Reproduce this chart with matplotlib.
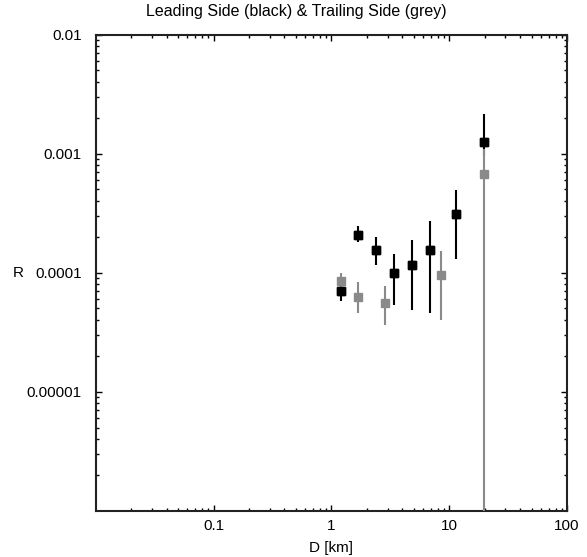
import matplotlib
matplotlib.use('AGG')
import numpy as np
import matplotlib.pyplot as plt
from matplotlib.ticker import FixedLocator, FixedFormatter, LogLocator, NullFormatter

plt.rcParams['font.family'] = ['Liberation Sans', 'DejaVu Sans']
plt.rcParams['font.size'] = 11

# leading side (black)
D_lead = [1.2, 1.69, 2.41, 3.39, 4.79, 6.81, 11.5, 19.9]
R_lead = [7.0e-5, 2.09e-4, 1.56e-4, 9.9e-5, 1.17e-4, 1.56e-4, 3.11e-4, 1.24e-3]
lead_lo = [5.8e-5, 1.8e-4, 1.17e-4, 5.4e-5, 4.9e-5, 4.6e-5, 1.3e-4, 9.5e-4]
lead_hi = [7.7e-5, 2.48e-4, 2.0e-4, 1.44e-4, 1.87e-4, 2.7e-4, 4.98e-4, 2.13e-3]

# trailing side (grey)
D_trail = [1.2, 1.69, 2.83, 8.55, 19.9]
R_trail = [8.45e-5, 6.25e-5, 5.57e-5, 9.6e-5, 6.8e-4]
trail_lo = [7.0e-5, 4.6e-5, 3.6e-5, 4.0e-5, 1e-8]
trail_hi = [1.0e-4, 8.4e-5, 7.7e-5, 1.53e-4, 1.1e-3]

xticks = [0.1, 1, 10, 100]
xticklabels = ["0.1", "1", "10", "100"]
yticks = [1e-5, 1e-4, 1e-3, 1e-2]
yticklabels = ["0.00001", "0.0001", "0.001", "0.01"]

grey = "#8a8a8a"

fig = plt.figure(figsize=(5.87, 5.57), dpi=100)
ax = fig.add_axes([0.163, 0.083, 0.803, 0.855])
ax.set_xscale('log')
ax.set_yscale('log')

def err(y, lo, hi):
    y = np.array(y); lo = np.array(lo); hi = np.array(hi)
    return [y - lo, hi - y]

ax.errorbar(D_lead, R_lead, yerr=err(R_lead, lead_lo, lead_hi), fmt='s', color='black',
            ms=5.5, elinewidth=1.5, capsize=0, zorder=2)
ax.errorbar(D_trail, R_trail, yerr=err(R_trail, trail_lo, trail_hi), fmt='s', color=grey,
            ms=5.5, elinewidth=1.5, capsize=0, zorder=3)
# black markers on top
ax.plot(D_lead, R_lead, 's', color='black', ms=5.5, zorder=4)

ax.set_xlim(0.01, 100)
ax.set_ylim(1e-6, 1e-2)

ax.xaxis.set_major_locator(FixedLocator(xticks))
ax.xaxis.set_major_formatter(FixedFormatter(xticklabels))
ax.yaxis.set_major_locator(FixedLocator(yticks))
ax.yaxis.set_major_formatter(FixedFormatter(yticklabels))
ax.xaxis.set_minor_locator(LogLocator(base=10, subs=np.arange(2, 10)))
ax.yaxis.set_minor_locator(LogLocator(base=10, subs=np.arange(2, 10)))
ax.xaxis.set_minor_formatter(NullFormatter())
ax.yaxis.set_minor_formatter(NullFormatter())

ax.tick_params(which='both', direction='in', top=True, right=True, width=1)
ax.tick_params(which='major', length=4)
ax.tick_params(which='minor', length=2)
ax.tick_params(axis='y', pad=10)
ax.tick_params(axis='x', pad=6)
for s in ax.spines.values():
    s.set_linewidth(1.5)
    s.set_color('#222222')

# title is centred on the figure, not the axes
fig.text(0.505, 0.979, "Leading Side (black) & Trailing Side (grey)", fontsize=11.5,
         ha='center', va='center')
ax.set_xlabel("D [km]", fontsize=11, labelpad=6)
ax.annotate("R", xy=(0, 1e-4), xycoords=('axes fraction', 'data'),
            xytext=(-60, 0), textcoords='offset points', ha='left', va='center', fontsize=11)

fig.savefig("out.png", dpi=100)
